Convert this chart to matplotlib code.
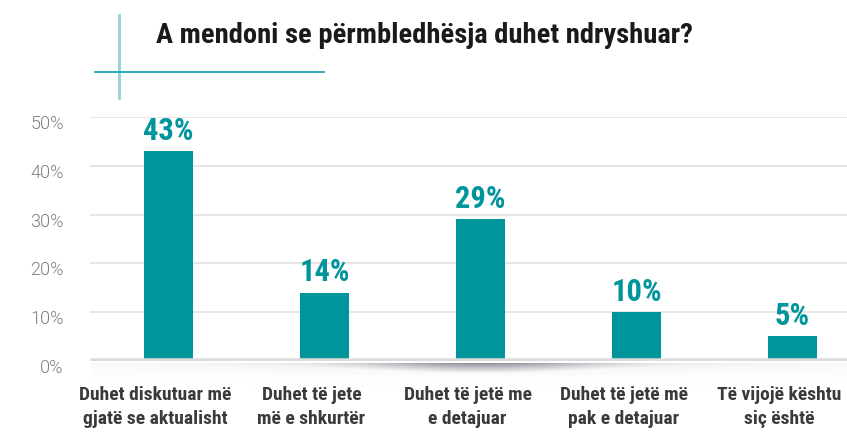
import numpy as np
import matplotlib
matplotlib.use("Agg")
import matplotlib.pyplot as plt
from matplotlib import font_manager
from matplotlib.transforms import ScaledTranslation

# data
categories = ["Duhet diskutuar më\ngjatë se aktualisht",
              "Duhet të jete\nmë e shkurtër",
              "Duhet të jetë me\ne detajuar",
              "Duhet të jetë më\npak e detajuar",
              "Të vijojë kështu\nsiç është"]
values = [43, 14, 29, 10, 5]
yticks = [0, 10, 20, 30, 40, 50]
title = "A mendoni se përmbledhësja duhet ndryshuar?"

teal = "#00959b"
names = set(f.name for f in font_manager.fontManager.ttflist)
narrow = next((n for n in ["Roboto Condensed", "Archivo Narrow", "Asap Condensed",
                           "Barlow Condensed", "PT Sans Narrow"] if n in names), "DejaVu Sans")
light = "Roboto" if "Roboto" in names else "DejaVu Sans"

fig = plt.figure(figsize=(8.47, 4.32), dpi=100)
ax = fig.add_axes([90/847, 71.2/432, 757/847, 243.8/432])

x = np.arange(len(values))
ax.bar(x, values, width=0.314, color=teal, zorder=3)
ax.set_xlim(-0.503, 4.349)
ax.set_ylim(0, 50)

# grid
for t in yticks[1:]:
    ax.axhline(t, color="#e6e6e6", lw=1.4, zorder=1)
ax.axhline(0, color="#dcdcdc", lw=4, zorder=4, solid_capstyle="butt")

# soft shadow under baseline
h, w = 24, 757
c = 480 - 90
yy, xx = np.mgrid[0:h, 0:w]
edge = 3 + 7 * np.exp(-((xx - c) / 130.0) ** 2)
core = 0.6 * np.exp(-((xx - c) / 120.0) ** 2) * np.clip(1 - yy / edge, 0, 1)
broad = 0.13 * np.exp(-((xx - c) / 380.0) ** 2) * np.exp(-yy / 7.0)
img = np.zeros((h, w, 4))
img[..., :3] = np.array([0.42, 0.43, 0.48])
img[..., 3] = np.clip(core + broad, 0, 1)
sax = fig.add_axes([90/847, (432 - 363 - h)/432, w/847, h/432])
sax.imshow(img, aspect="auto", interpolation="bilinear")
sax.axis("off")
sax.set_zorder(0)

for s in ax.spines.values():
    s.set_visible(False)

ax.set_yticks(yticks)
ax.set_yticklabels([f"{t}%" for t in yticks], fontsize=13, color="#808080",
                   family=light, fontweight=300)
ax.tick_params(axis="y", length=0, pad=19)
off = ScaledTranslation(0, -5/100, fig.dpi_scale_trans)
for lab in ax.get_yticklabels():
    lab.set_transform(lab.get_transform() + off)

ax.set_xticks(x)
ax.set_xticklabels(categories, fontsize=14, color="#3a3a3a", family=narrow,
                   fontweight="bold", linespacing=1.45)
ax.tick_params(axis="x", length=0, pad=18)
xoff = ScaledTranslation(-13/100, 0, fig.dpi_scale_trans)
for lab in ax.get_xticklabels():
    lab.set_transform(lab.get_transform() + xoff)

for xi, v in zip(x, values):
    ax.annotate(f"{v}%", (xi, v), xytext=(0, 8), textcoords="offset points",
                ha="center", va="baseline", fontsize=22, fontweight="bold",
                color=teal, family=narrow)

# title and decorative lines
fig.text(156/847, 1 - 43/432, title, fontsize=20.5, fontweight="bold",
         color="#1a1a1a", family=narrow, ha="left", va="baseline")
fig.add_artist(plt.Line2D([119/847, 119/847], [1 - 15/432, 1 - 98/432],
                          color="#8fd3d6", lw=2))
fig.add_artist(plt.Line2D([95/847, 324/847], [1 - 72/432, 1 - 72/432],
                          color="#1aa6ae", lw=1.3))

fig.savefig("out.png", dpi=100)
